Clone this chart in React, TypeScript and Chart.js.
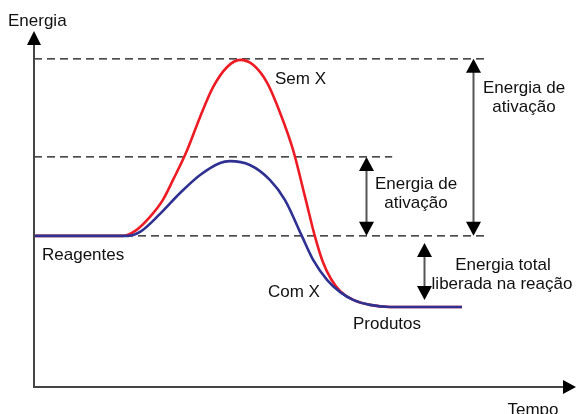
import React, { useEffect, useRef } from "react";
import { Chart, registerables } from "chart.js";

Chart.register(...registerables);

// Energy diagram data (arbitrary units: time 0-100, energy 0-100)
const redTime = [0, 16.5, 18.7, 21.4, 23.8, 25.7, 28.3, 30.7, 33.1, 35.7, 38.1, 40.5, 43.1, 45.5, 47.9, 50.1, 51.9, 53.4, 54.9, 56.6, 59.0, 62.1, 65.8, 79.1];
const redEnergy = [42.7, 42.7, 44.1, 48.0, 52.8, 58.5, 66.9, 76.3, 84.7, 90.4, 92.4, 91.0, 85.9, 77.4, 66.9, 53.7, 42.7, 35.3, 30.5, 27.1, 24.6, 23.2, 22.6, 22.6];

const blueTime = [0, 17.4, 19.6, 23.3, 27.0, 30.7, 34.4, 36.2, 39.9, 43.6, 46.4, 49.5, 51.6, 54.2, 56.6, 59.0, 62.1, 65.8, 79.1];
const blueEnergy = [42.7, 42.7, 43.8, 48.9, 54.8, 59.9, 63.3, 63.8, 62.7, 58.5, 52.8, 42.7, 35.9, 30.2, 26.8, 24.6, 23.2, 22.6, 22.6];

// Dashed reference levels
const levelEnergy = [92.7, 65.0, 42.7];
const levelStart = [0, 0, 0];
const levelEnd = [83.7, 66.2, 83.7];

// Double-headed arrows
const arrowTime = [81.1, 61.4, 72.0];
const arrowFrom = [92.7, 65.0, 40.7];
const arrowTo = [42.7, 42.7, 24.6];

// Text labels
const labelTexts = [
  "Energia",
  "Sem X",
  "Energia de",
  "ativação",
  "Energia de",
  "ativação",
  "Energia total",
  "liberada na reação",
  "Com X",
  "Produtos",
  "Reagentes",
  "Tempo",
];

const labelLayout: [number, number, CanvasTextAlign][] = [
  [8, 26, "left"],
  [275, 84, "left"],
  [524, 93, "center"],
  [524, 112, "center"],
  [416, 189, "center"],
  [416, 208, "center"],
  [503, 270, "center"],
  [502, 289, "center"],
  [268, 297, "left"],
  [353, 329, "left"],
  [42, 260, "left"],
  [533, 415, "center"],
];

const overlayPlugin = {
  id: "overlay",
  afterDatasetsDraw(chart: any) {
    const { ctx, chartArea: a, scales } = chart;
    const xs = scales.x;
    const ys = scales.y;
    ctx.save();

    // arrows
    for (let i = 0; i < arrowTime.length; i++) {
      const px = Math.round(xs.getPixelForValue(arrowTime[i])) + 0.5;
      const y1 = ys.getPixelForValue(arrowFrom[i]);
      const y2 = ys.getPixelForValue(arrowTo[i]);
      const head = 14;
      const half = 7.5;
      ctx.strokeStyle = "#555";
      ctx.lineWidth = 2;
      ctx.beginPath();
      ctx.moveTo(px, y1 + head - 1);
      ctx.lineTo(px, y2 - head + 1);
      ctx.stroke();
      ctx.fillStyle = "#000";
      ctx.beginPath();
      ctx.moveTo(px, y1);
      ctx.lineTo(px - half, y1 + head);
      ctx.lineTo(px + half, y1 + head);
      ctx.closePath();
      ctx.fill();
      ctx.beginPath();
      ctx.moveTo(px, y2);
      ctx.lineTo(px - half, y2 - head);
      ctx.lineTo(px + half, y2 - head);
      ctx.closePath();
      ctx.fill();
    }

    // axes
    const ax = a.left;
    const ay = a.bottom;
    ctx.strokeStyle = "#444";
    ctx.lineWidth = 2;
    ctx.beginPath();
    ctx.moveTo(ax, ay + 1);
    ctx.lineTo(ax, a.top + 10);
    ctx.moveTo(ax - 1, ay);
    ctx.lineTo(a.right - 10, ay);
    ctx.stroke();
    ctx.fillStyle = "#000";
    ctx.beginPath();
    ctx.moveTo(ax, a.top - 2);
    ctx.lineTo(ax - 7, a.top + 12);
    ctx.lineTo(ax + 7, a.top + 12);
    ctx.closePath();
    ctx.fill();
    ctx.beginPath();
    ctx.moveTo(a.right + 1, ay);
    ctx.lineTo(a.right - 12, ay - 7);
    ctx.lineTo(a.right - 12, ay + 7);
    ctx.closePath();
    ctx.fill();

    // labels
    ctx.font = '17px "Liberation Sans", Arial, sans-serif';
    ctx.fillStyle = "#111";
    ctx.textBaseline = "alphabetic";
    for (let i = 0; i < labelTexts.length; i++) {
      const [lx, ly, al] = labelLayout[i];
      ctx.textAlign = al;
      ctx.fillText(labelTexts[i], lx, ly);
    }
    ctx.restore();
  },
};

export default function App() {
  const ref = useRef<HTMLCanvasElement>(null);

  useEffect(() => {
    if (!ref.current) return;
    const toPts = (xs: number[], ys: number[]) => xs.map((v, i) => ({ x: v, y: ys[i] }));
    const dashed = levelEnergy.map((e, i) => ({
      type: "line" as const,
      data: [
        { x: levelStart[i], y: e },
        { x: levelEnd[i], y: e },
      ],
      borderColor: "#111",
      borderWidth: 1.2,
      borderDash: [8, 5],
      pointRadius: 0,
      tension: 0,
      clip: false as any,
    }));
    const chart = new Chart(ref.current, {
      type: "line",
      data: {
        datasets: [
          {
            label: "Com X",
            data: toPts(blueTime, blueEnergy),
            borderColor: "#2e3192",
            borderWidth: 2.6,
            pointRadius: 0,
            cubicInterpolationMode: "monotone",
            clip: false as any,
          },
          {
            label: "Sem X",
            data: toPts(redTime, redEnergy),
            borderColor: "#ed1c24",
            borderWidth: 2.6,
            pointRadius: 0,
            cubicInterpolationMode: "monotone",
            clip: false as any,
          },
          ...dashed,
        ],
      },
      options: {
        animation: false,
        responsive: false,
        devicePixelRatio: 1,
        layout: { padding: { left: 34, right: 2, top: 33, bottom: 27 } },
        scales: {
          x: { type: "linear", min: 0, max: 100, display: false },
          y: { type: "linear", min: 0, max: 100, display: false },
        },
        plugins: { legend: { display: false }, tooltip: { enabled: false } },
        events: [],
      },
      plugins: [overlayPlugin],
    });
    return () => chart.destroy();
  }, []);

  return (
    <div style={{ position: "fixed", left: 0, top: 0, width: 577, height: 414, background: "#fff" }}>
      <canvas ref={ref} width={577} height={414} style={{ display: "block" }} />
    </div>
  );
}
